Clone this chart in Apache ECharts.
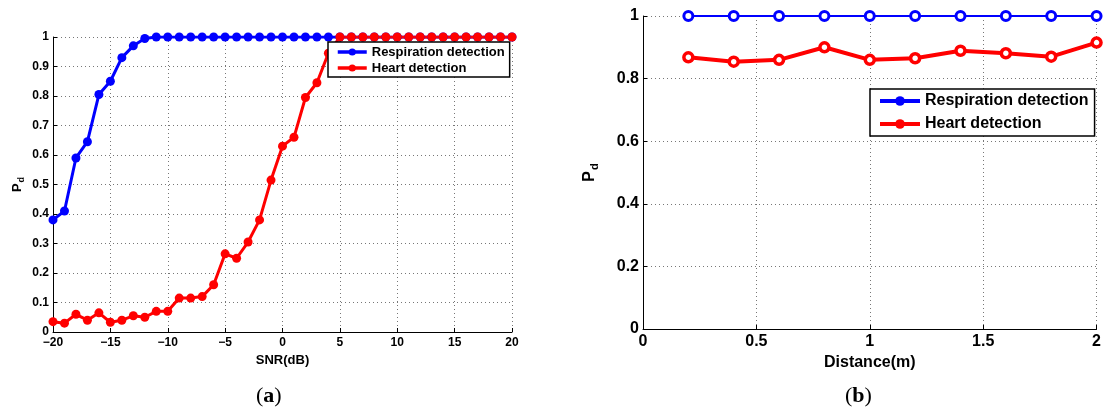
<!DOCTYPE html>
<html><head><meta charset="utf-8">
<script src="https://cdn.jsdelivr.net/npm/echarts@6/dist/echarts.min.js"></script>
<style>html,body{margin:0;padding:0;background:#fff}#c{width:1104px;height:414px}</style>
</head><body><div id="c"></div>
<script>
// ---- data ----
const snrDb = [-20,-19,-18,-17,-16,-15,-14,-13,-12,-11,-10,-9,-8,-7,-6,-5,-4,-3,-2,-1,0,1,2,3,4,5,6,7,8,9,10,11,12,13,14,15,16,17,18,19,20];
const respirationSnr = [0.38,0.41,0.59,0.645,0.805,0.85,0.93,0.97,0.995,1,1,1,1,1,1,1,1,1,1,1,1,1,1,1,1,1,1,1,1,1,1,1,1,1,1,1,1,1,1,1,1];
const heartSnr = [0.035,0.03,0.06,0.04,0.065,0.033,0.04,0.055,0.05,0.07,0.07,0.115,0.115,0.12,0.16,0.265,0.25,0.305,0.38,0.515,0.63,0.66,0.795,0.845,0.945,1,1,1,1,1,1,1,1,1,1,1,1,1,1,1,1];
const distanceM = [0.2,0.4,0.6,0.8,1.0,1.2,1.4,1.6,1.8,2.0];
const respirationDist = [1,1,1,1,1,1,1,1,1,1];
const heartDist = [0.868,0.854,0.86,0.9,0.86,0.865,0.889,0.881,0.87,0.915];
const seriesNames = ['Respiration detection','Heart detection'];
const xTitles = ['SNR(dB)','Distance(m)'];
const captions = ['a','b'];

const pairs = (xs, ys) => xs.map((x, i) => [x, ys[i]]);
const FONT = '"Liberation Sans", Arial, sans-serif';
const gridLine = {show: true, lineStyle: {color: '#777', width: 1, type: [1, 3]}};
const axisLine = {show: true, onZero: false, lineStyle: {color: '#000', width: 1}};
const tick = {show: true, inside: true, length: 4, lineStyle: {color: '#000'}};
const minus = v => String(v).replace('-', '\u2212');
const pd = (fs) => ({
  name: '{p|P}{d|d}',
  nameLocation: 'middle',
  nameRotate: 90,
  nameTextStyle: {rich: {
    p: {fontSize: fs, fontWeight: 'bold', fontFamily: FONT, color: '#000', lineHeight: fs + 4},
    d: {fontSize: Math.round(fs * 0.7), fontWeight: 'bold', fontFamily: FONT, color: '#000', verticalAlign: 'bottom', lineHeight: fs + 4, padding: [Math.round(fs*0.5), 0, 0, 1]}
  }}
});

const chart = echarts.init(document.getElementById('c'), null, {renderer: 'canvas'});
chart.setOption({
  animation: false,
  backgroundColor: '#fff',
  grid: [
    {left: 53, right: 592, top: 37, bottom: 82},
    {left: 643, right: 3, top: 16, bottom: 85}
  ],
  xAxis: [
    {type: 'value', gridIndex: 0, min: -20, max: 20, interval: 5,
     name: xTitles[0], nameLocation: 'middle', nameGap: 19,
     nameTextStyle: {fontSize: 13, fontWeight: 'bold', fontFamily: FONT, color: '#000'},
     axisLine, axisTick: tick, splitLine: gridLine,
     axisLabel: {formatter: minus, fontSize: 12, fontWeight: 'bold', fontFamily: FONT, color: '#000', margin: 5, showMinLabel: true, showMaxLabel: true}},
    {type: 'value', gridIndex: 1, min: 0, max: 2, interval: 0.5,
     name: xTitles[1], nameLocation: 'middle', nameGap: 26,
     nameTextStyle: {fontSize: 16, fontWeight: 'bold', fontFamily: FONT, color: '#000'},
     axisLine, axisTick: tick, splitLine: gridLine,
     axisLabel: {fontSize: 16, fontWeight: 'bold', fontFamily: FONT, color: '#000', margin: 5, showMinLabel: true, showMaxLabel: true}}
  ],
  yAxis: [
    Object.assign({type: 'value', gridIndex: 0, min: 0, max: 1, interval: 0.1, nameGap: 27,
     axisLine, axisTick: tick, splitLine: gridLine,
     axisLabel: {fontSize: 12, fontWeight: 'bold', fontFamily: FONT, color: '#000', margin: 4}}, pd(13)),
    Object.assign({type: 'value', gridIndex: 1, min: 0, max: 1, interval: 0.2, nameGap: 43,
     axisLine, axisTick: tick, splitLine: gridLine,
     axisLabel: {fontSize: 16, fontWeight: 'bold', fontFamily: FONT, color: '#000', margin: 4}}, pd(16))
  ],
  legend: [
    {orient: 'vertical', left: 328, top: 42, data: seriesNames, selectedMode: false,
     backgroundColor: '#fff', borderColor: '#000', borderWidth: 1.5, borderRadius: 0,
     padding: [3, 5, 2, 8], itemGap: 2, itemWidth: 29, itemHeight: 9,
     lineStyle: {width: 3.5},
     textStyle: {fontSize: 13, fontWeight: 'bold', fontFamily: FONT, color: '#000', lineHeight: 14}},
    {orient: 'vertical', left: 870, top: 89, data: seriesNames, selectedMode: false,
     backgroundColor: '#fff', borderColor: '#000', borderWidth: 1.5, borderRadius: 0,
     padding: [3, 6, 3, 8], itemGap: 5, itemWidth: 40, itemHeight: 12,
     lineStyle: {width: 4},
     textStyle: {fontSize: 16, fontWeight: 'bold', fontFamily: FONT, color: '#000', lineHeight: 18}}
  ],
  series: [
    {name: seriesNames[0], type: 'line', xAxisIndex: 0, yAxisIndex: 0, data: pairs(snrDb, respirationSnr),
     symbol: 'circle', symbolSize: 9, color: '#0000ff', lineStyle: {width: 3, color: '#0000ff'}, itemStyle: {color: '#0000ff'}},
    {name: seriesNames[1], type: 'line', xAxisIndex: 0, yAxisIndex: 0, data: pairs(snrDb, heartSnr),
     symbol: 'circle', symbolSize: 9, color: '#ff0000', lineStyle: {width: 3, color: '#ff0000'}, itemStyle: {color: '#ff0000'}},
    {name: seriesNames[0], type: 'line', xAxisIndex: 1, yAxisIndex: 1, data: pairs(distanceM, respirationDist),
     symbol: 'circle', symbolSize: 9, color: '#0000ff', lineStyle: {width: 2, color: '#0000ff'}, itemStyle: {color: '#ffffff', borderColor: '#0000ff', borderWidth: 3}},
    {name: seriesNames[1], type: 'line', xAxisIndex: 1, yAxisIndex: 1, data: pairs(distanceM, heartDist),
     symbol: 'circle', symbolSize: 9, color: '#ff0000', lineStyle: {width: 4, color: '#ff0000'}, itemStyle: {color: '#ffffff', borderColor: '#ff0000', borderWidth: 3.5}}
  ],
  graphic: [
    {type: 'text', left: 256, top: 385, style: {text: '({b|' + captions[0] + '})', font: '22px "Liberation Serif", serif', fill: '#000',
      rich: {b: {fontWeight: 'bold', fontSize: 22, fontFamily: '"Liberation Serif", serif'}}}},
    {type: 'text', left: 845, top: 385, style: {text: '({b|' + captions[1] + '})', font: '22px "Liberation Serif", serif', fill: '#000',
      rich: {b: {fontWeight: 'bold', fontSize: 22, fontFamily: '"Liberation Serif", serif'}}}}
  ]
});
</script></body></html>
